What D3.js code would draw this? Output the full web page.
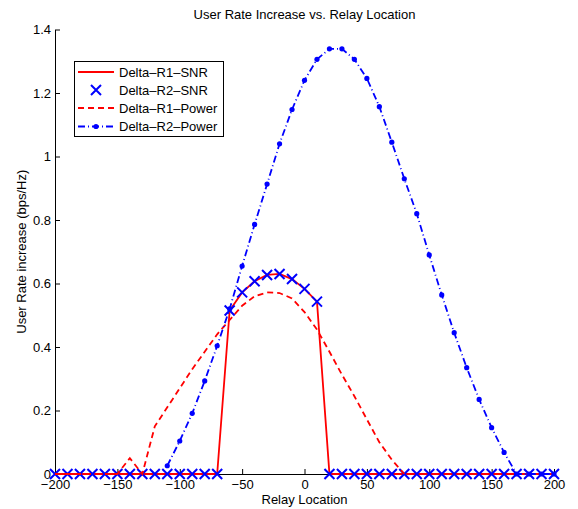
<!DOCTYPE html>
<html><head><meta charset="utf-8">
<script src="https://cdn.jsdelivr.net/npm/d3@7"></script>
<style>
body{margin:0;background:#fff;}
text{font-family:"Liberation Sans",Arial,Helvetica,sans-serif;}
</style></head>
<body><svg id="c" width="578" height="509"></svg>
<script>
const xs = d3.range(-200, 201, 10);
// Delta-R1-SNR (red solid) and Delta-R2-SNR (blue x): same values
const snrVals = [0,0,0,0,0,0,0,0,0,0,0,0,0,0,
  0.515,0.572,0.607,0.627,0.630,0.614,0.583,0.543,
  0,0,0,0,0,0,0,0,0,0,0,0,0,0,0,0,0,0,0];
// Delta-R1-Power (red dashed)
const r1PowX = d3.range(-200, 81, 10);
const r1PowVals = [0,0,0,0,0,0,0.05,0,0.15,0.21,0.27,0.33,0.385,0.44,0.485,0.53,0.56,0.572,0.57,0.553,0.51,
  0.455,0.385,0.313,0.245,0.172,0.10,0.045,0];
// Delta-R2-Power (blue dash-dot with dots)
const r2PowX = d3.range(-110, 201, 10);
const r2PowVals = [0.026,0.104,0.191,0.293,0.404,0.52,0.655,0.786,0.913,1.04,1.148,1.24,
  1.306,1.339,1.339,1.306,1.246,1.157,1.045,0.93,0.82,0.69,0.564,0.445,0.335,0.235,0.146,0.068,
  0,0,0,0];
const xTicks = [-200,-150,-100,-50,0,50,100,150,200];
const yTicks = [0,0.2,0.4,0.6,0.8,1,1.2,1.4];
const legendLabels = ["Delta\u2013R1\u2013SNR","Delta\u2013R2\u2013SNR","Delta\u2013R1\u2013Power","Delta\u2013R2\u2013Power"];

const FS = 13;
const svg = d3.select("#c");
const L=55, R=554, T=29.5, B=474;
const x = d3.scaleLinear().domain([-200,200]).range([L,R]);
const y = d3.scaleLinear().domain([0,1.4]).range([B,T]);
const fmt = d => (d<0? "\u2212"+Math.abs(d) : String(d));

// axes
const xAxis = svg.append("g").attr("transform",`translate(0,${B})`)
  .call(d3.axisBottom(x).tickValues(xTicks).tickSizeInner(-5).tickSizeOuter(0).tickPadding(8).tickFormat(fmt));
const yAxis = svg.append("g").attr("transform",`translate(${L},0)`)
  .call(d3.axisLeft(y).tickValues(yTicks).tickSizeInner(-5).tickSizeOuter(0).tickPadding(4).tickFormat(d=>String(d)));
[xAxis,yAxis].forEach(g=>{
  g.selectAll("text").attr("font-size",FS).attr("fill","#000").style("font-family","'Liberation Sans',Arial,sans-serif");
  g.selectAll("line").attr("stroke","#000");
  g.select(".domain").attr("stroke","#000");
});
xAxis.selectAll("text").attr("dy","0.5em");

// series
const line = d3.line().x(d=>x(d[0])).y(d=>y(d[1]));
const snrData = xs.map((v,i)=>[v,snrVals[i]]);
const r1Pow = r1PowX.map((v,i)=>[v,r1PowVals[i]]);
const r2Pow = r2PowX.map((v,i)=>[v,r2PowVals[i]]);

svg.append("path").datum(snrData).attr("d",line).attr("fill","none").attr("stroke","#ff0000").attr("stroke-width",1.8);

const xMark = (g, cx, cy, s) => g.append("path")
  .attr("d",`M${cx-s},${cy-s}L${cx+s},${cy+s}M${cx-s},${cy+s}L${cx+s},${cy-s}`)
  .attr("stroke","#0000ff").attr("stroke-width",2).attr("fill","none");
const gx = svg.append("g");
snrData.forEach(d=>xMark(gx, x(d[0]), y(d[1]), 5));

svg.append("path").datum(r1Pow).attr("d",line).attr("fill","none").attr("stroke","#ff0000")
  .attr("stroke-width",1.8).attr("stroke-dasharray","6,4");

svg.append("path").datum(r2Pow).attr("d",line).attr("fill","none").attr("stroke","#0000ff")
  .attr("stroke-width",1.8).attr("stroke-dasharray","7,3,1,3");
svg.append("g").selectAll("circle").data(r2Pow).join("circle")
  .attr("cx",d=>x(d[0])).attr("cy",d=>y(d[1])).attr("r",2.6).attr("fill","#0000ff");

// title & labels
svg.append("text").attr("x",(L+R)/2).attr("y",19).attr("text-anchor","middle").attr("font-size",FS).text("User Rate Increase vs. Relay Location");
svg.append("text").attr("x",(L+R)/2).attr("y",504).attr("text-anchor","middle").attr("font-size",FS).text("Relay Location");
svg.append("text").attr("transform",`translate(26,${(T+B)/2}) rotate(-90)`).attr("text-anchor","middle").attr("font-size",FS).text("User Rate increase (bps/Hz)");

// legend
const lg = svg.append("g");
lg.append("rect").attr("x",74.5).attr("y",61.5).attr("width",149).attr("height",75).attr("fill","#fff").attr("stroke","#000").attr("stroke-width",1);
const rows=[72,90,108,126.5];
const lx0=78, lx1=114;
lg.append("line").attr("x1",lx0).attr("x2",lx1).attr("y1",rows[0]).attr("y2",rows[0]).attr("stroke","#ff0000").attr("stroke-width",1.8);
xMark(lg,(lx0+lx1)/2,rows[1],5);
lg.append("line").attr("x1",lx0).attr("x2",lx1).attr("y1",rows[2]).attr("y2",rows[2]).attr("stroke","#ff0000").attr("stroke-width",1.8).attr("stroke-dasharray","6,4");
lg.append("line").attr("x1",lx0).attr("x2",lx1).attr("y1",rows[3]).attr("y2",rows[3]).attr("stroke","#0000ff").attr("stroke-width",1.8).attr("stroke-dasharray","7,3,1,3");
lg.append("circle").attr("cx",(lx0+lx1)/2).attr("cy",rows[3]).attr("r",2.6).attr("fill","#0000ff");
legendLabels.forEach((t,i)=>lg.append("text").attr("x",119).attr("y",rows[i]).attr("dy","0.35em").attr("font-size",FS).text(t));
</script></body></html>
